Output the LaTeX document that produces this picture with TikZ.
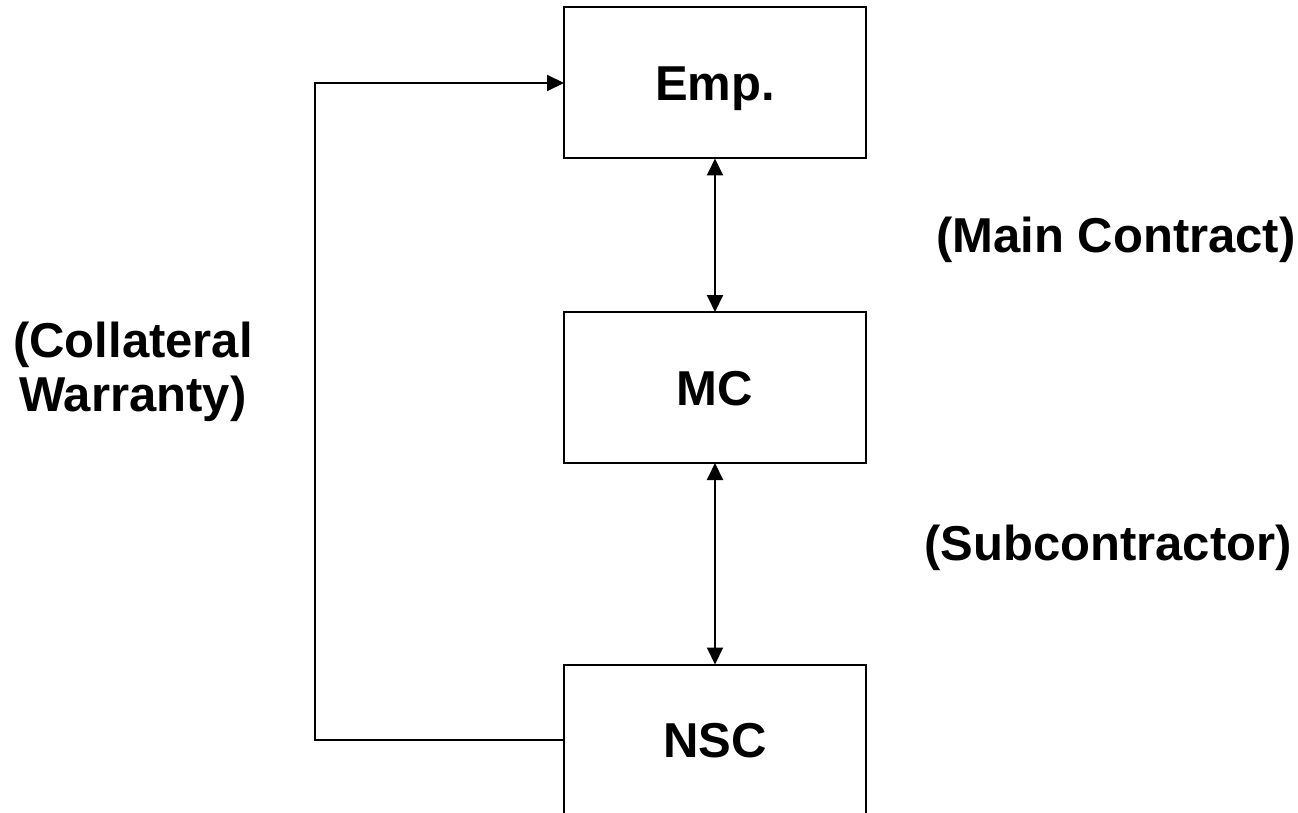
\documentclass[tikz,border=0pt]{standalone}
\usepackage{fontspec}
\setmainfont{Liberation Sans}
\usetikzlibrary{arrows.meta}
\tikzset{
  box/.style={draw, line width=2pt, minimum width=302pt, minimum height=151pt,
    inner sep=0pt, outer sep=0pt, text height=35pt, text depth=0pt,
    font=\fontsize{49}{54}\selectfont\bfseries},
  lbl/.style={inner sep=0pt, font=\fontsize{49}{54}\selectfont\bfseries},
  conn/.style={line width=2pt},
  tip/.tip={Triangle[length=17pt,width=16pt]}
}
\begin{document}
\begin{tikzpicture}[x=1pt,y=-1pt]
\clip (0,0) rectangle (1298,813);
\fill[white] (0,0) rectangle (1298,813);
\node[box] (emp) at (715,83) {Emp.};
\node[box] (mc) at (715,387.5) {MC};
\node[box] (nsc) at (715,740) {NSC};
\coordinate (cw) at (315,740);
\draw[conn, tip-tip] (emp.south) -- (mc.north);
\draw[conn, tip-tip] (mc.south) -- (nsc.north);
\draw[conn, -tip] (nsc.west) -- (cw) |- (emp.west);
\node[lbl, anchor=base] (main) at (1116,252) {(Main Contract)};
\node[lbl, anchor=base] (sub) at (1108,560) {(Subcontractor)};
\node[lbl, align=center] (coll) at (133,372) {(Collateral\\Warranty)};
\end{tikzpicture}
\end{document}
